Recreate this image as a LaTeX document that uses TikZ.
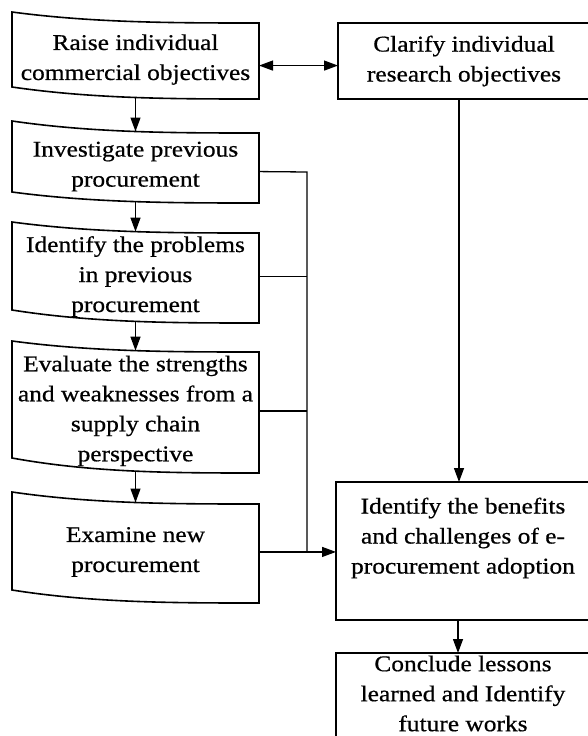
\documentclass[tikz,border=0pt]{standalone}
\usepackage{fontspec}
\setmainfont{Liberation Serif}[FakeStretch=1.13,FakeBold=0.6]
\usetikzlibrary{arrows.meta}

% A step card with a wavy top and bottom edge; the node spans its middle column.
% #1 name, #2/#3 top edge y at left/right, #4/#5 bottom edge y at left/right, #6 text
\newcommand{\flowcard}[6]{%
  \draw[outline] (12,#2) .. controls (94.33,#3) and (176.67,#3) .. (259,#3)
     -- (259,#5) .. controls (176.67,#5) and (94.33,#5) .. (12,#4) -- cycle;
  \node[lbox, minimum height={(#4+7*#5-#2-7*#3)/8*1pt}] (#1)
     at (135.5,{(#2+7*#3+#4+7*#5)/16}) {#6};
}

\begin{document}
\begin{tikzpicture}[x=1pt,y=-1pt,
  outline/.style={line width=1.6pt, line join=miter},
  wire/.style={line width=1.3pt},
  arr/.style={wire, -{Triangle[length=14pt,width=10pt]}},
  darr/.style={wire, {Triangle[length=14pt,width=10pt]}-{Triangle[length=14pt,width=10pt]}},
  txt/.style={align=center, font=\fontsize{22.5}{30}\selectfont},
  lbox/.style={txt, rectangle, minimum width=247pt, inner sep=0pt, outer sep=0pt},
  rbox/.style={txt, outline, draw, rectangle, inner sep=0pt, outer sep=0pt},
]
\fill[white] (0,0) rectangle (587,736);
\useasboundingbox (0,0) rectangle (587,736);

% left column of steps
\flowcard{raise}{12}{23}{87}{99}{Raise individual\\commercial objectives}
\flowcard{inv}{121}{133}{192}{203}{Investigate previous\\procurement}
\flowcard{prob}{222}{233}{310}{323}{Identify the problems\\in previous\\procurement}
\flowcard{eval}{341}{352}{458}{473}{Evaluate the strengths\\and weaknesses from a\\supply chain\\perspective}
\flowcard{exam}{492}{504}{590}{603}{Examine new\\procurement}

% right column
\node[rbox, minimum width=252pt, minimum height=76pt] (clar) at (464,61)
  {Clarify individual\\research objectives};
\node[rbox, minimum width=254pt, minimum height=138pt,
  label={[txt, yshift=13pt]center:{Identify the benefits\\and challenges of e-\\procurement adoption}}]
  (ben) at (463,551) {};
\node[rbox, minimum width=254pt, minimum height=87pt,
  label={[txt, yshift=3pt]center:{Conclude lessons\\learned and Identify\\future works}}]
  (conc) at (463,696.5) {};

% connectors
\draw[darr] ([yshift=-6pt]raise.east) -- ([yshift=-6pt]raise.east -| clar.west);
\draw[arr] (raise.south) -- (inv.north);
\draw[arr] (inv.south) -- (prob.north);
\draw[arr] (prob.south) -- (eval.north);
\draw[arr] (eval.south) -- (exam.north);

\coordinate (bus) at (307,172);
\draw[wire] ([yshift=-5pt]inv.east) -- (bus) -- (bus |- exam.east);
\draw[wire] (prob.east) -- (prob.east -| bus);
\draw[wire] (eval.east) -- (eval.east -| bus);
\draw[arr] (exam.east) -- (exam.east -| ben.west);

\draw[arr] ([xshift=-5pt]clar.south) -- ([xshift=-5pt]clar.south |- ben.north);
\draw[arr] ([xshift=-5pt]ben.south) -- ([xshift=-5pt]ben.south |- conc.north);
\end{tikzpicture}
\end{document}
